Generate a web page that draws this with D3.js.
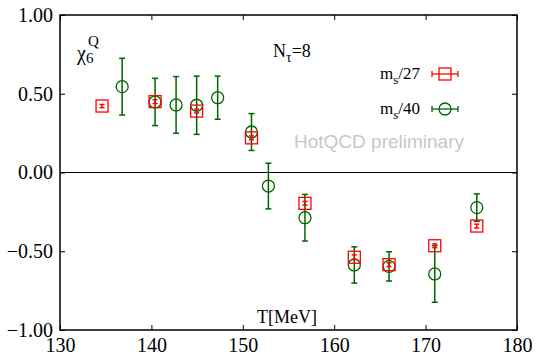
<!DOCTYPE html>
<html><head><meta charset="utf-8">
<script src="https://cdn.jsdelivr.net/npm/d3@7"></script>
<style>body{margin:0;background:#fff}svg{display:block}
.serif{font-family:"Liberation Serif","Times New Roman",serif}</style>
</head><body>
<script>
const xTicks = [130, 140, 150, 160, 170, 180];
const yTicks = [-1.0, -0.5, 0.0, 0.5, 1.0];
const t27 = [134.6, 140.4, 144.95, 150.95, 156.8, 162.2, 166.0, 171.0, 175.6];
const v27 = [0.422, 0.450, 0.390, 0.220, -0.196, -0.538, -0.585, -0.465, -0.340];
const e27 = [0.010, 0.012, 0.012, 0.012, 0.012, 0.015, 0.012, 0.012, 0.012];
const t40 = [136.8, 140.4, 142.7, 144.95, 147.25, 150.95, 152.8, 156.8, 162.2, 166.0, 171.0, 175.6];
const v40 = [0.545, 0.448, 0.429, 0.427, 0.475, 0.257, -0.086, -0.287, -0.587, -0.596, -0.644, -0.223];
const e40 = [0.180, 0.150, 0.180, 0.185, 0.137, 0.117, 0.145, 0.148, 0.115, 0.093, 0.180, 0.087];

const W = 536, H = 355;
const m = {l: 60, r: 517, t: 15, b: 330};
const svg = d3.select("body").append("svg").attr("width", W).attr("height", H);
const x = d3.scaleLinear().domain([130, 180]).range([m.l, m.r]);
const y = d3.scaleLinear().domain([-1, 1]).range([m.b, m.t]);
const red = "#ff0000", green = "#006400";

svg.append("line").attr("x1", m.l).attr("x2", m.r).attr("y1", y(0)).attr("y2", y(0))
  .attr("stroke", "#000").attr("stroke-width", 1);

const fmt = d3.format(".2f");
const ax = (g, axis) => { g.call(axis); g.select(".domain").remove();
  g.attr("font-family", null).attr("font-size", null).attr("class", "serif");
  g.selectAll("line").attr("stroke", "#000").attr("stroke-width", 1); };
svg.append("g").attr("transform", `translate(0,${m.b})`)
  .call(g => ax(g, d3.axisBottom(x).tickValues(xTicks).tickSize(-5)))
  .selectAll("text").style("font-size", "20px").attr("fill", "#000").attr("y", 22).attr("dy", 0);
svg.append("g").attr("transform", `translate(0,${m.t})`)
  .call(g => ax(g, d3.axisTop(x).tickValues(xTicks).tickSize(-5).tickFormat("")));
svg.append("g").attr("transform", `translate(${m.l},0)`)
  .call(g => ax(g, d3.axisLeft(y).tickValues(yTicks).tickSize(-5).tickPadding(7).tickFormat(fmt)))
  .selectAll("text").style("font-size", "20px").attr("fill", "#000");
svg.append("g").attr("transform", `translate(${m.r},0)`)
  .call(g => ax(g, d3.axisRight(y).tickValues(yTicks).tickSize(-5).tickFormat("")));
svg.append("rect").attr("x", m.l).attr("y", m.t).attr("width", m.r - m.l).attr("height", m.b - m.t)
  .attr("fill", "none").attr("stroke", "#000").attr("stroke-width", 1.5);

svg.append("text").attr("x", 294).attr("y", 148).text("HotQCD preliminary")
  .style("font-family", "'Liberation Sans',Arial,sans-serif").style("font-size", "19px").attr("fill", "#c8c8c8");

function errbar(g, cx, y1, y2, cap, col, sw) {
  g.append("line").attr("x1", cx).attr("x2", cx).attr("y1", y1).attr("y2", y2).attr("stroke", col).attr("stroke-width", sw);
  [y1, y2].forEach(yy => g.append("line").attr("x1", cx - cap).attr("x2", cx + cap).attr("y1", yy).attr("y2", yy)
    .attr("stroke", col).attr("stroke-width", sw));
}

const gG = svg.append("g");
t40.forEach((t, i) => {
  errbar(gG, x(t), y(v40[i] + e40[i]), y(v40[i] - e40[i]), 3, green, 1.5);
  gG.append("circle").attr("cx", x(t)).attr("cy", y(v40[i])).attr("r", 6)
    .attr("fill", "none").attr("stroke", green).attr("stroke-width", 1.3);
});
const gR = svg.append("g");
t27.forEach((t, i) => {
  errbar(gR, x(t), y(v27[i] + e27[i]), y(v27[i] - e27[i]), 2.5, red, 1.5);
  gR.append("rect").attr("x", x(t) - 6).attr("y", y(v27[i]) - 6).attr("width", 12).attr("height", 12)
    .attr("fill", "none").attr("stroke", red).attr("stroke-width", 1.3);
});

function legText(yb, sub, rest) {
  const t = svg.append("text").attr("x", 420).attr("y", yb).attr("text-anchor", "end")
    .attr("class", "serif").style("font-size", "17px").attr("fill", "#000");
  t.append("tspan").text("m");
  t.append("tspan").style("font-size", "13px").attr("dy", 5).text(sub);
  t.append("tspan").attr("dy", -5).text(rest);
}
legText(79, "s", "/27");
legText(114, "s", "/40");
const lg = svg.append("g");
[[74, red], [109, green]].forEach(([ly, col], k) => {
  lg.append("line").attr("x1", 432).attr("x2", 458).attr("y1", ly).attr("y2", ly).attr("stroke", col).attr("stroke-width", 1.3);
  [432, 458].forEach(xx => lg.append("line").attr("x1", xx).attr("x2", xx).attr("y1", ly - 3).attr("y2", ly + 3).attr("stroke", col).attr("stroke-width", 1.3));
  if (k === 0) lg.append("rect").attr("x", 439).attr("y", ly - 6).attr("width", 12).attr("height", 12).attr("fill", "none").attr("stroke", col).attr("stroke-width", 1.3);
  else lg.append("circle").attr("cx", 445).attr("cy", ly).attr("r", 6).attr("fill", "none").attr("stroke", col).attr("stroke-width", 1.3);
});

const chi = svg.append("text").attr("x", 77).attr("y", 60).attr("class", "serif").style("font-size", "20px").attr("fill", "#000");
chi.append("tspan").text("χ");
chi.append("tspan").style("font-size", "15px").attr("dy", 3).text("6");
chi.append("tspan").style("font-size", "15px").attr("x", 88).attr("dy", -17).text("Q");

const nt = svg.append("text").attr("x", 273).attr("y", 57).attr("class", "serif").style("font-size", "18px").attr("fill", "#000");
nt.append("tspan").text("N");
nt.append("tspan").style("font-size", "14px").attr("dy", 5).text("τ");
nt.append("tspan").attr("dy", -5).text("=8");

svg.append("text").attr("x", 257).attr("y", 323).attr("class", "serif").style("font-size", "18px").attr("fill", "#000").text("T[MeV]");
</script>
</body></html>
